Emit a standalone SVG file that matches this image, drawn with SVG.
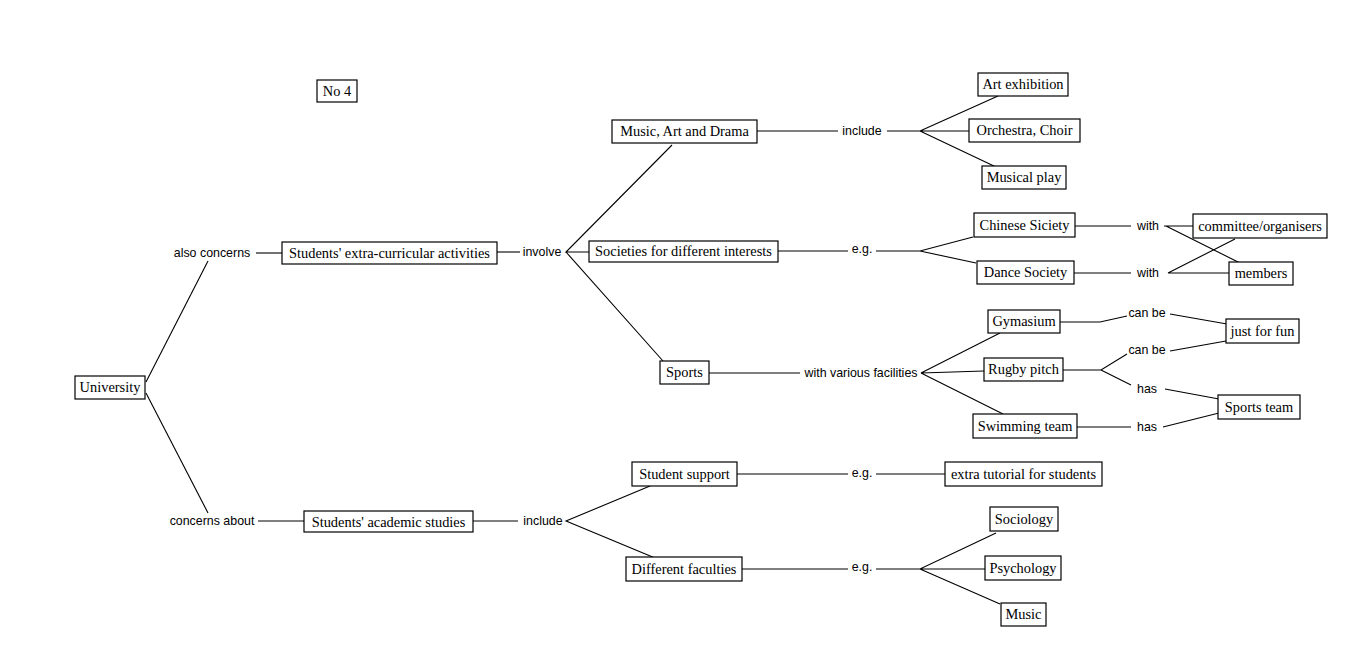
<svg xmlns="http://www.w3.org/2000/svg" width="1369" height="666" viewBox="0 0 1369 666">
<style>
.n rect{fill:#fff;stroke:#000;stroke-width:1.2}
.n text{font-family:"Liberation Serif","Times New Roman",serif;font-size:14.4px;fill:#000;text-anchor:middle}
.l{font-family:"Liberation Sans",Arial,sans-serif;font-size:12.4px;fill:#000;text-anchor:middle}
.c{fill:none;stroke:#000;stroke-width:1.1}
</style>
<rect width="1369" height="666" fill="#fff"/>
<g id="connectors" class="c">
<path d="M146,382 L208,261"/>
<path d="M146,393 L208,513"/>
<path d="M256,253 H282"/>
<path d="M258,521 H304"/>
<path d="M497,252 H520"/>
<path d="M672,145 L566,252 L589,252 M566,252 L663,361"/>
<path d="M757,131 H838"/>
<path d="M887,131 H920 M998,96 L920,131 L969,131 M920,131 L996,167"/>
<path d="M778,251 H848"/>
<path d="M876,251 H920 L973,237 M920,251 L976,263"/>
<path d="M1075,226 H1131"/>
<path d="M1164,226 H1193 M1166,226 L1240,263"/>
<path d="M1074,273 H1131"/>
<path d="M1168,273 H1229 M1168,273 L1235,239"/>
<path d="M709,373 H800"/>
<path d="M1000,333 L921,373 L984,371 M921,373 L1003,414"/>
<path d="M1060,322 H1100 L1127,316"/>
<path d="M1170,314 L1227,324"/>
<path d="M1063,370 H1101 L1127,354 M1101,370 L1131,385"/>
<path d="M1170,351 L1226,341"/>
<path d="M1165,389 L1219,399"/>
<path d="M1077,427 H1131"/>
<path d="M1163,427 L1219,413"/>
<path d="M473,521 H518"/>
<path d="M650,486 L566,521 L655,558"/>
<path d="M737,474 H848 M876,474 H945"/>
<path d="M742,569 H848 M876,569 H920 L996,533 M920,569 L985,569 M920,569 L1000,604"/>
</g>
<g id="labels">
<text class="l" x="212" y="257">also concerns</text>
<text class="l" x="212" y="525">concerns about</text>
<text class="l" x="542" y="256">involve</text>
<text class="l" x="862" y="135">include</text>
<text class="l" x="862" y="253">e.g.</text>
<text class="l" x="1148" y="230">with</text>
<text class="l" x="1148" y="277">with</text>
<text class="l" x="861" y="377">with various facilities</text>
<text class="l" x="1147" y="317">can be</text>
<text class="l" x="1147" y="354">can be</text>
<text class="l" x="1147" y="393">has</text>
<text class="l" x="1147" y="431">has</text>
<text class="l" x="543" y="525">include</text>
<text class="l" x="862" y="477">e.g.</text>
<text class="l" x="862" y="571">e.g.</text>
</g>
<g id="no4" class="n"><rect x="317" y="80" width="40" height="22"/><text x="337" y="96">No 4</text></g>
<g id="university" class="n"><rect x="75" y="376" width="70" height="23"/><text x="110" y="392">University</text></g>
<g id="extra" class="n"><rect x="282" y="242" width="215" height="22"/><text x="389.5" y="258">Students' extra-curricular activities</text></g>
<g id="academic" class="n"><rect x="304" y="511" width="169" height="21"/><text x="388.5" y="527">Students' academic studies</text></g>
<g id="mad" class="n"><rect x="612" y="120" width="145" height="23"/><text x="684.5" y="136">Music, Art and Drama</text></g>
<g id="societies" class="n"><rect x="589" y="241" width="189" height="21"/><text x="683.5" y="256">Societies for different interests</text></g>
<g id="sports" class="n"><rect x="660" y="361" width="49" height="23"/><text x="684.5" y="377">Sports</text></g>
<g id="art" class="n"><rect x="978" y="73" width="90" height="23"/><text x="1023" y="89">Art exhibition</text></g>
<g id="orchestra" class="n"><rect x="969" y="119" width="111" height="23"/><text x="1024.5" y="135">Orchestra, Choir</text></g>
<g id="musical" class="n"><rect x="982" y="166" width="84" height="23"/><text x="1024" y="182">Musical play</text></g>
<g id="chinese" class="n"><rect x="974" y="213" width="101" height="24"/><text x="1024.5" y="230">Chinese Siciety</text></g>
<g id="dance" class="n"><rect x="977" y="261" width="97" height="23"/><text x="1025.5" y="277">Dance Society</text></g>
<g id="committee" class="n"><rect x="1193" y="214" width="134" height="24"/><text x="1260" y="231">committee/organisers</text></g>
<g id="members" class="n"><rect x="1229" y="262" width="64" height="23"/><text x="1261" y="278">members</text></g>
<g id="gym" class="n"><rect x="988" y="310" width="72" height="23"/><text x="1024" y="326">Gymasium</text></g>
<g id="rugby" class="n"><rect x="984" y="358" width="79" height="23"/><text x="1023.5" y="374">Rugby pitch</text></g>
<g id="swimming" class="n"><rect x="973" y="414" width="104" height="24"/><text x="1025" y="431">Swimming team</text></g>
<g id="fun" class="n"><rect x="1226" y="319" width="73" height="24"/><text x="1262.5" y="336">just for fun</text></g>
<g id="sportsteam" class="n"><rect x="1218" y="395" width="82" height="24"/><text x="1259" y="412">Sports team</text></g>
<g id="support" class="n"><rect x="632" y="462" width="105" height="24"/><text x="684.5" y="479">Student support</text></g>
<g id="tutorial" class="n"><rect x="945" y="462" width="157" height="24"/><text x="1023.5" y="479">extra tutorial for students</text></g>
<g id="faculties" class="n"><rect x="626" y="557" width="116" height="24"/><text x="684" y="574">Different faculties</text></g>
<g id="sociology" class="n"><rect x="990" y="507" width="68" height="24"/><text x="1024" y="524">Sociology</text></g>
<g id="psychology" class="n"><rect x="985" y="556" width="76" height="24"/><text x="1023" y="573">Psychology</text></g>
<g id="music" class="n"><rect x="1001" y="603" width="45" height="23"/><text x="1023.5" y="619">Music</text></g>
</svg>
